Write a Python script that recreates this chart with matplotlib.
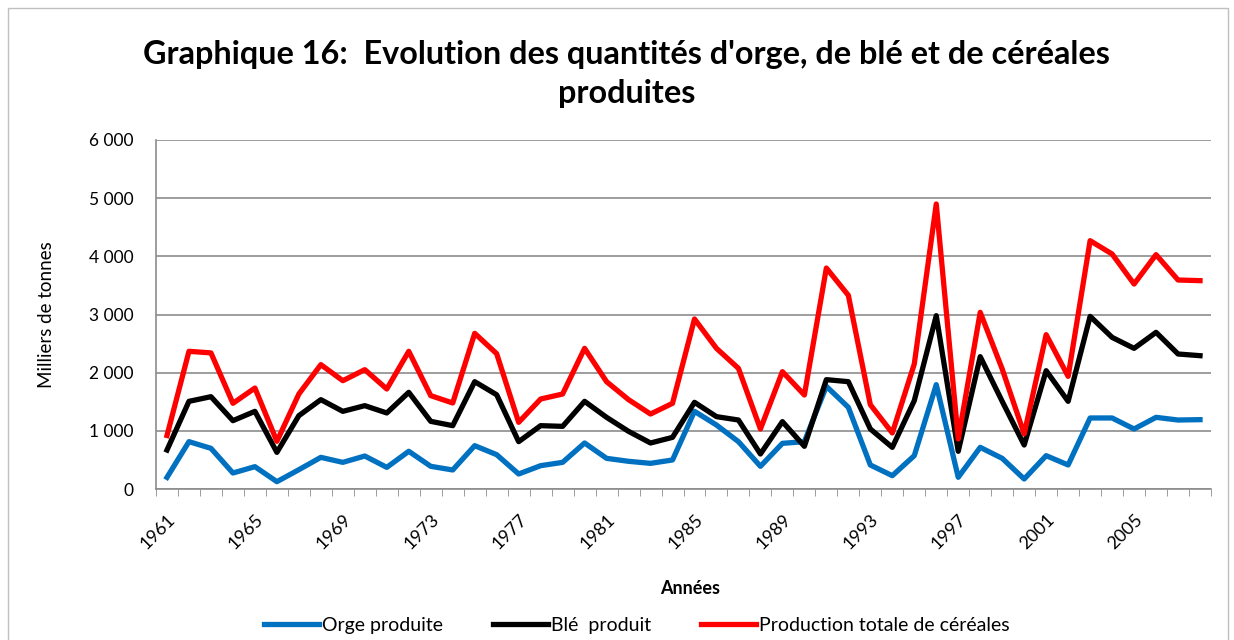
import matplotlib.pyplot as plt
import numpy as np
from matplotlib.patches import Rectangle

# Données (milliers de tonnes), 1961-2008
annees = list(range(1961, 2009))
orge = [200, 814, 699, 275, 384, 126, 332, 544, 458, 567, 372, 648, 390, 327, 745, 590,
        258, 401, 458, 791, 527, 476, 441, 499, 1335, 1100, 814, 390, 785, 814, 1765, 1404,
        413, 229, 573, 1794, 201, 716, 527, 172, 573, 413, 1221, 1221, 1032, 1232, 1186, 1192]
ble = [670, 1507, 1587, 1175, 1335, 630, 1261, 1536, 1335, 1433, 1307, 1662, 1163, 1089, 1845, 1620,
       814, 1089, 1077, 1507, 1232, 991, 791, 888, 1490, 1244, 1186, 602, 1158, 734, 1880, 1845,
       1032, 716, 1519, 2980, 648, 2275, 1507, 756, 2034, 1507, 2968, 2607, 2418, 2693, 2321, 2292]
cereales = [920, 2367, 2340, 1473, 1736, 820, 1633, 2138, 1862, 2052, 1719, 2367, 1605, 1479, 2676, 2326,
            1146, 1547, 1633, 2418, 1845, 1536, 1289, 1473, 2923, 2418, 2074, 1032, 2017, 1616, 3799, 3330,
            1450, 963, 2149, 4900, 860, 3037, 2063, 946, 2653, 1937, 4269, 4040, 3524, 4029, 3593, 3582]

plt.rcParams['font.family'] = ['Lato', 'DejaVu Sans']

x = np.arange(len(annees))
fig = plt.figure(figsize=(12.34, 6.4), dpi=100)
ax = fig.add_axes([156 / 1234, 1 - 489 / 640, 1055 / 1234, 349 / 640])

ax.plot(x, orge, color="#0070C0", linewidth=3.8, label="Orge produite", solid_joinstyle="round")
ax.plot(x, ble, color="black", linewidth=3.8, label="Blé  produit", solid_joinstyle="round")
ax.plot(x, cereales, color="#FF0000", linewidth=3.8, label="Production totale de céréales",
        solid_joinstyle="round")

ax.set_xlim(-0.5, len(annees) - 0.5)
ax.set_ylim(0, 6000)
ax.set_yticks(range(0, 6001, 1000))
ax.set_yticklabels(["0", "1 000", "2 000", "3 000", "4 000", "5 000", "6 000"], fontsize=12.5)
ax.yaxis.grid(True, color="#8c8c8c", linewidth=1.2)
ax.set_axisbelow(True)

ax.set_xticks(x[::4])
ax.set_xticklabels([str(a) for a in annees[::4]], rotation=45, ha="right",
                   rotation_mode="anchor", fontsize=13)
ax.set_xticks(np.arange(-0.5, len(annees), 1), minor=True)
ax.tick_params(axis="x", which="major", length=0, pad=16)
ax.tick_params(axis="x", which="minor", length=5, color="#8c8c8c")
ax.tick_params(axis="y", length=0, pad=16)

for s in ["top", "right"]:
    ax.spines[s].set_visible(False)
for s in ["left", "bottom"]:
    ax.spines[s].set_color("#8c8c8c")
    ax.spines[s].set_linewidth(1.2)

ax.set_ylabel("Milliers de tonnes", fontsize=13.5)
ax.yaxis.set_label_coords(-101 / 1055, 0.5)
ax.set_xlabel("Années", fontsize=13, fontweight="bold")
ax.xaxis.set_label_coords(0.506, -91 / 349)

fig.text(0.508, 0.884, "Graphique 16:  Evolution des quantités d'orge, de blé et de céréales\nproduites",
         ha="center", va="center", fontsize=23.3, fontweight="bold", linespacing=1.4)

fig.legend(loc="center", bbox_to_anchor=(0.516, 0.023), ncol=3, frameon=False,
           fontsize=14, handlelength=2.8, columnspacing=2.6, handletextpad=0.15)

fig.patches.append(Rectangle((8 / 1234, -0.01), 1220 / 1234, 1 - 8 / 640 + 0.01,
                             transform=fig.transFigure, fill=False,
                             edgecolor="#bfbfbf", linewidth=1))

fig.savefig("out.png", dpi=100)
